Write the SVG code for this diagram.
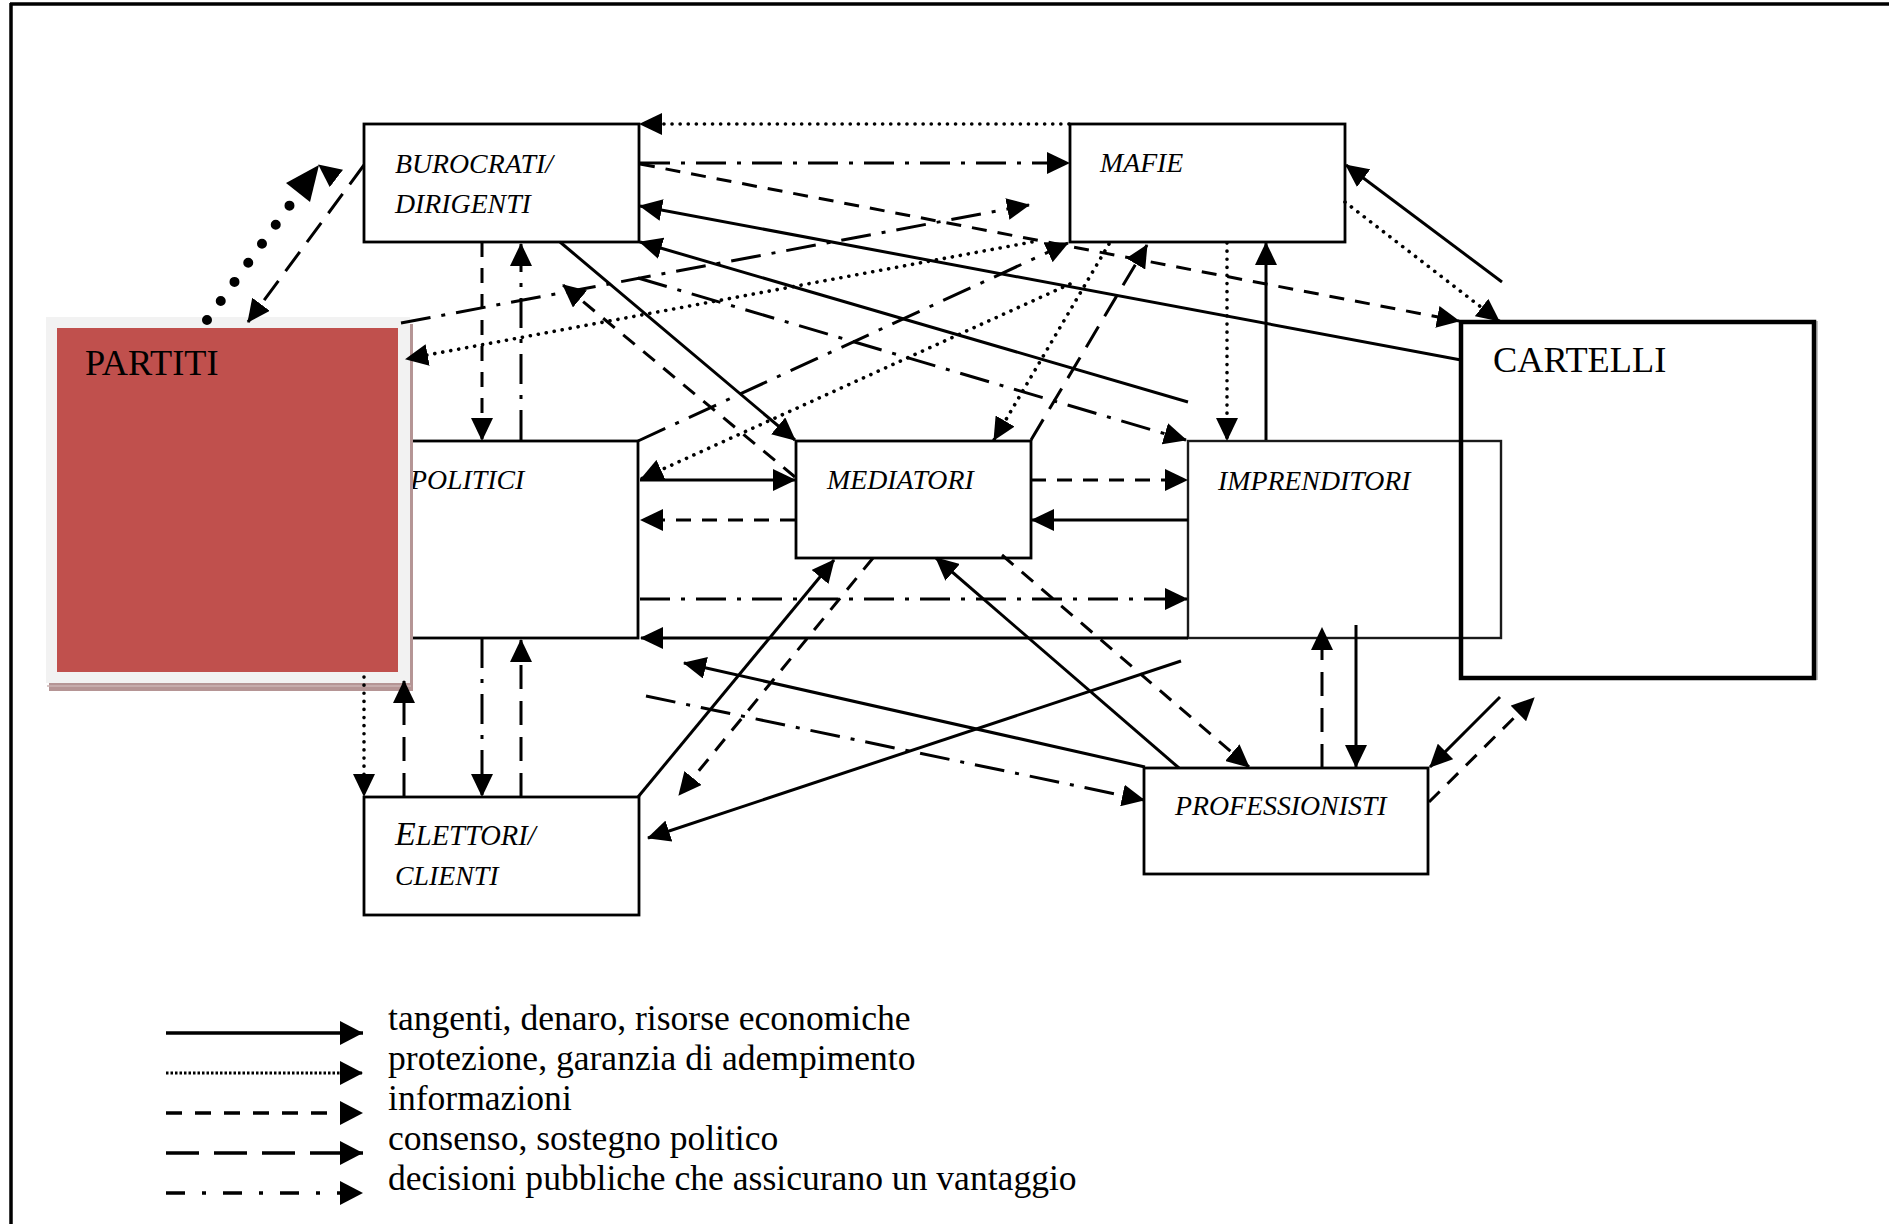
<svg xmlns="http://www.w3.org/2000/svg" width="1889" height="1224" viewBox="0 0 1889 1224">
<style>
.box{fill:none;stroke:#000;stroke-width:2.8}
.lbl{font-family:"Liberation Serif","Times New Roman",serif;font-style:italic;font-size:27.8px;fill:#000}
.big{font-family:"Liberation Serif","Times New Roman",serif;font-size:36.3px;fill:#000}
.leg{font-family:"Liberation Serif","Times New Roman",serif;font-size:35.6px;fill:#000}
.s,.d,.i,.c,.x{fill:none;stroke:#000;stroke-width:3}
.d{stroke-width:3.6;stroke-dasharray:0.1 8;stroke-linecap:round}
.i{stroke-dasharray:15 11}
.c{stroke-dasharray:24 12}
.x{stroke-dasharray:30 11 4 11}
</style>
<defs>
<marker id="ah" markerUnits="userSpaceOnUse" markerWidth="23" markerHeight="22" viewBox="0 0 23 22" refX="22" refY="11" orient="auto"><path d="M0,0L23,11L0,22z" fill="#000"/></marker>
<marker id="al" markerUnits="userSpaceOnUse" markerWidth="23" markerHeight="24" viewBox="0 0 23 24" refX="23" refY="12" orient="auto"><path d="M0,0L23,12L0,24z" fill="#000"/></marker>
</defs>
<rect x="0" y="0" width="1889" height="1224" fill="#fff"/>
<g id="frame" stroke="#000" stroke-width="3.5">
<line x1="10" y1="4" x2="1889" y2="4"/>
<line x1="11" y1="3" x2="11" y2="1224"/>
</g>
<g id="politici">
<rect class="box" x="364" y="441" width="274" height="197"/>
<text class="lbl" x="410" y="489">POLITICI</text>
</g>
<g id="partiti">
<rect x="49" y="324" width="364" height="367" fill="#b59595"/>
<rect x="46" y="317" width="364" height="366" fill="#f2f2f2"/>
<line x1="47" y1="686" x2="411" y2="686" stroke="#cdb5b5" stroke-width="1.5"/>
<rect x="57" y="328" width="341" height="344" fill="#c0504d"/>
<text class="big" x="85" y="375">PARTITI</text>
</g>
<g id="burocrati">
<rect class="box" x="364" y="124" width="275" height="118"/>
<text class="lbl" x="395" y="173">BUROCRATI/</text>
<text class="lbl" x="395" y="213">DIRIGENTI</text>
</g>
<g id="mafie">
<rect class="box" x="1070" y="124" width="275" height="118"/>
<text class="lbl" x="1100" y="172">MAFIE</text>
</g>
<g id="mediatori">
<rect class="box" x="796" y="441" width="235" height="117"/>
<text class="lbl" x="827" y="489">MEDIATORI</text>
</g>
<g id="imprenditori">
<rect x="1188" y="441" width="313" height="197" fill="none" stroke="#1a1a1a" stroke-width="2.4"/>
<text class="lbl" x="1218" y="490">IMPRENDITORI</text>
</g>
<g id="cartelli">
<line x1="1817" y1="321" x2="1817" y2="680" stroke="#aaa" stroke-width="1.5"/>
<rect x="1461" y="322" width="353" height="356" fill="none" stroke="#000" stroke-width="4.5"/>
<text class="big" x="1493" y="372">CARTELLI</text>
</g>
<g id="elettori">
<rect class="box" x="364" y="797" width="275" height="118"/>
<text class="lbl" x="395" y="845"><tspan font-size="34">E</tspan><tspan font-size="28.5">LETTORI/</tspan></text>
<text class="lbl" x="395" y="885">CLIENTI</text>
</g>
<g id="professionisti">
<rect class="box" x="1144" y="768" width="284" height="106"/>
<text class="lbl" x="1175" y="815">PROFESSIONISTI</text>
</g>
<g id="connectors" marker-end="url(#ah)">
<line class="d" x1="1069" y1="124" x2="640" y2="124"/>
<line class="x" x1="640" y1="163" x2="1069" y2="163"/>
<line class="i" x1="640" y1="164" x2="1459" y2="321"/>
<line class="s" x1="1461" y1="360" x2="640" y2="206"/>
<line class="s" x1="1188" y1="402" x2="640" y2="242"/>
<line class="x" x1="401" y1="323" x2="1029" y2="205"/>
<line class="d" x1="1032" y1="242" x2="406" y2="359"/>
<line class="x" x1="638" y1="441" x2="1068" y2="243"/>
<line class="d" x1="1109" y1="244" x2="994" y2="440"/>
<line class="c" x1="1031" y1="440" x2="1147" y2="245"/>
<line class="d" x1="1070" y1="284" x2="641" y2="479"/>
<line class="s" x1="560" y1="242" x2="795" y2="440"/>
<line class="i" x1="795" y1="477" x2="563" y2="285"/>
<line class="x" x1="638" y1="278" x2="1186" y2="440"/>
<line class="d" x1="1345" y1="202" x2="1499" y2="321"/>
<line class="s" x1="1502" y1="282" x2="1346" y2="165"/>
<line class="d" x1="1227" y1="243" x2="1227" y2="440"/>
<line class="s" x1="1266" y1="440" x2="1266" y2="243"/>
<line class="s" x1="640" y1="480" x2="795" y2="480"/>
<line class="i" x1="795" y1="520" x2="641" y2="520"/>
<line class="i" x1="1031" y1="480" x2="1187" y2="480"/>
<line class="s" x1="1188" y1="520" x2="1032" y2="520"/>
<line class="x" x1="640" y1="599" x2="1187" y2="599"/>
<line class="s" x1="1188" y1="638" x2="641" y2="638"/>
<line class="s" x1="638" y1="797" x2="834" y2="560"/>
<line class="i" x1="873" y1="558" x2="679" y2="795"/>
<line class="s" x1="1179" y1="768" x2="936" y2="558"/>
<line class="i" x1="1002" y1="555" x2="1249" y2="767"/>
<line class="s" x1="1145" y1="767" x2="684" y2="663"/>
<line class="x" x1="646" y1="696" x2="1144" y2="800"/>
<line class="s" x1="1181" y1="661" x2="648" y2="838"/>
<line class="d" x1="364" y1="677" x2="364" y2="796"/>
<line class="c" x1="404" y1="797" x2="404" y2="681"/>
<line class="x" x1="482" y1="638" x2="482" y2="796"/>
<line class="c" x1="521" y1="797" x2="521" y2="640"/>
<line class="i" x1="482" y1="242" x2="482" y2="440"/>
<line class="x" x1="521" y1="440" x2="521" y2="244"/>
<line class="c" x1="1322" y1="768" x2="1322" y2="628"/>
<line class="s" x1="1356" y1="625" x2="1356" y2="767"/>
<line class="s" x1="1500" y1="697" x2="1430" y2="767"/>
<line class="i" x1="1429" y1="802" x2="1534" y2="698"/>
<line class="c" x1="364" y1="165" x2="248" y2="322"/>
<line x1="207" y1="320" x2="295" y2="198" stroke="#000" stroke-width="10" stroke-linecap="round" stroke-dasharray="0 23.5" marker-end="none"/>
<polygon points="319,165 286,183 310,202" fill="#000"/>
</g>
<g id="legend">
<g marker-end="url(#al)">
<line x1="166" y1="1033" x2="363" y2="1033" stroke="#000" stroke-width="3.5"/>
<line x1="166" y1="1073" x2="363" y2="1073" stroke="#000" stroke-width="3" stroke-dasharray="2.5 2"/>
<line x1="166" y1="1113" x2="363" y2="1113" stroke="#000" stroke-width="3.5" stroke-dasharray="16 13"/>
<line x1="166" y1="1153" x2="363" y2="1153" stroke="#000" stroke-width="3.5" stroke-dasharray="33 15"/>
<line x1="166" y1="1193" x2="363" y2="1193" stroke="#000" stroke-width="3.5" stroke-dasharray="19 17 4 17"/>
</g>
<text class="leg" x="388" y="1030">tangenti, denaro, risorse economiche</text>
<text class="leg" x="388" y="1070">protezione, garanzia di adempimento</text>
<text class="leg" x="388" y="1110">informazioni</text>
<text class="leg" x="388" y="1150">consenso, sostegno politico</text>
<text class="leg" x="388" y="1190">decisioni pubbliche che assicurano un vantaggio</text>
</g>
</svg>
